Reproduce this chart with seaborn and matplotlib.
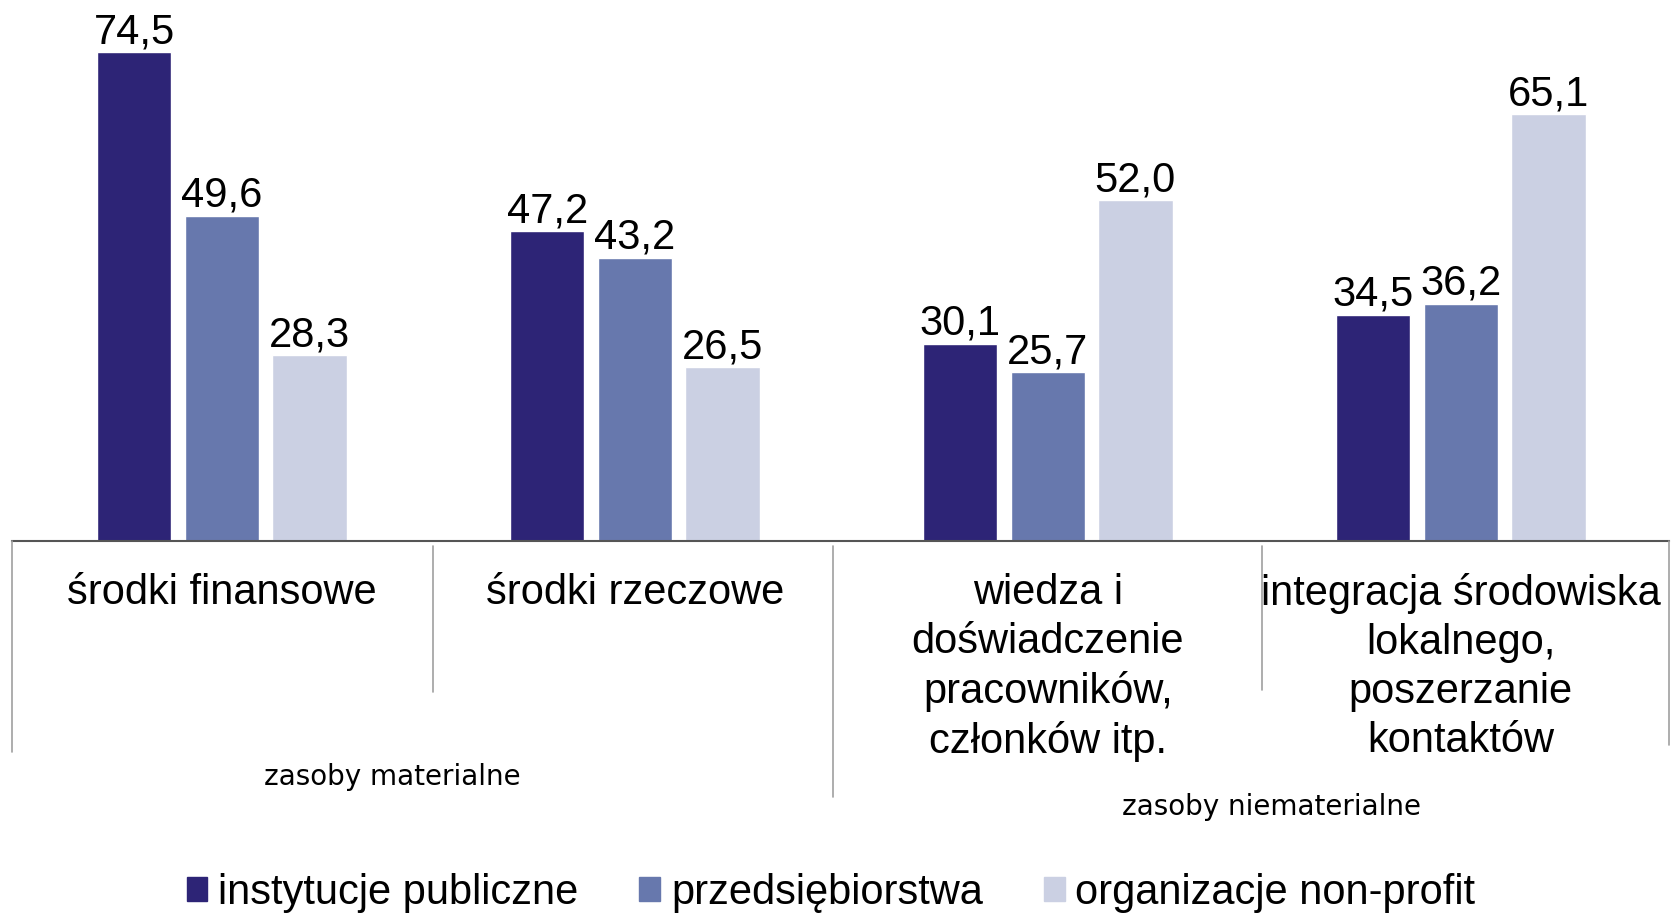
import numpy as np
import pandas as pd
import matplotlib
matplotlib.use("Agg")
import matplotlib.pyplot as plt
from matplotlib.lines import Line2D
import seaborn as sns

categories = ["środki finansowe", "środki rzeczowe",
              "wiedza i\ndoświadczenie\npracowników,\nczłonków itp.",
              "integracja środowiska\nlokalnego,\nposzerzanie\nkontaktów"]
series = ["instytucje publiczne", "przedsiębiorstwa", "organizacje non-profit"]
publiczne = [74.5, 47.2, 30.1, 34.5]
przedsiebiorstwa = [49.6, 43.2, 25.7, 36.2]
non_profit = [28.3, 26.5, 52.0, 65.1]
groups = ["zasoby materialne", "zasoby niematerialne"]
colors = ["#2D2476", "#6778AD", "#CBD0E3"]

if __name__ == "__main__":
    sns.set_style("white")
    plt.rcParams['font.family'] = ['Liberation Sans', 'DejaVu Sans']
    plt.rcParams['text.color'] = 'black'
    plt.rcParams['xtick.color'] = 'black'

    data = pd.DataFrame({
        'Kategoria': categories * 3,
        'Typ': [series[0]] * 4 + [series[1]] * 4 + [series[2]] * 4,
        'Wartosc': publiczne + przedsiebiorstwa + non_profit,
    })

    W, H = 1671, 914
    fig = plt.figure(figsize=(W / 100, H / 100), dpi=100)
    ax = fig.add_axes([12 / W, 1 - 541 / H, (1669 - 12) / W, 541 / H])
    sns.barplot(data=data, x='Kategoria', y='Wartosc', hue='Typ', palette=colors,
                width=0.636, gap=0.15, ax=ax, legend=False, saturation=1)

    for c in ax.containers:
        ax.bar_label(c, labels=[f"{v:.1f}".replace('.', ',') for v in c.datavalues],
                     padding=0, fontsize=30, color='black')

    ax.set_xlim(-0.508, 3.504)
    ax.set_ylim(0, 82.5)
    ax.set_xlabel('')
    ax.set_ylabel('')
    ax.set_yticks([])
    ax.tick_params(axis='x', length=0, pad=23, labelsize=30, labelcolor='black')
    for lab in ax.get_xticklabels():
        lab.set_linespacing(1.29)
    for s in ['top', 'left', 'right']:
        ax.spines[s].set_visible(False)
    ax.spines['bottom'].set_color('#555555')
    ax.spines['bottom'].set_linewidth(1.5)

    # separators under the axis
    for x, y0, y1 in [(12, 541, 752), (433, 546, 692), (833, 546, 797),
                      (1262, 546, 690), (1669, 541, 745)]:
        fig.add_artist(Line2D([x / W, x / W], [1 - y0 / H, 1 - y1 / H],
                              color='#A0A0A0', lw=1.2))

    # group labels
    fig.text(392 / W, 1 - 777 / H, groups[0], ha='center', va='center', fontsize=20,
             family=['DejaVu Sans'], color='black')
    fig.text(1272 / W, 1 - 807 / H, groups[1], ha='center', va='center', fontsize=20,
             family=['DejaVu Sans'], color='black')

    handles = [plt.Rectangle((0, 0), 1, 1, color=c) for c in colors]
    fig.legend(handles, series, loc='center', bbox_to_anchor=(831 / W, 1 - 893 / H),
               ncol=3, frameon=False, fontsize=30, handlelength=0.5, handleheight=0.5,
               handletextpad=0.26, columnspacing=1.46, borderpad=0)

    fig.savefig('out.png', dpi=100)
